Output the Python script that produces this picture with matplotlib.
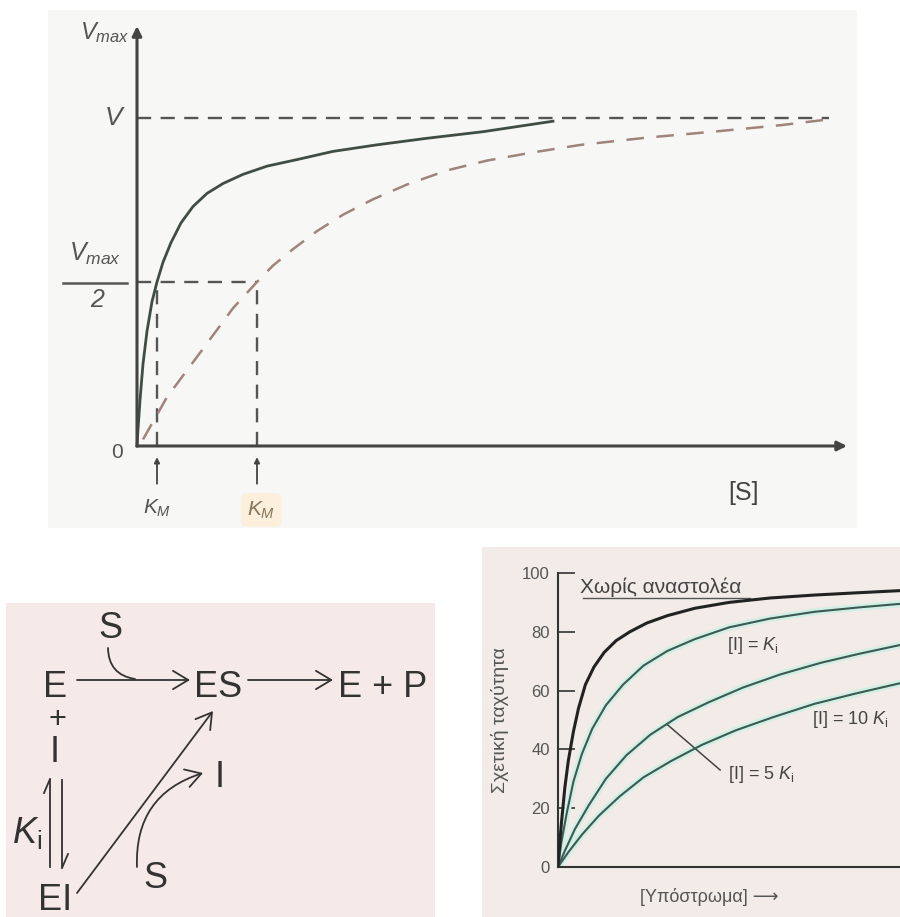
import matplotlib.pyplot as plt
from matplotlib.patches import Rectangle

plt.rcParams["font.family"] = ["Liberation Sans", "DejaVu Sans"]
plt.rcParams["mathtext.fontset"] = "custom"
plt.rcParams["mathtext.rm"] = "Liberation Sans"
plt.rcParams["mathtext.it"] = "Liberation Sans:italic"

# --- top panel: v against [S], without and with a competitive inhibitor
s_free = [0, 0.05, 0.15, 0.3, 0.5, 0.75, 1.0, 1.3, 1.7, 2.2, 2.8, 3.5, 4.3, 5.3, 6.5, 8.0,
          9.8, 12, 14.5, 17.3, 20.8]
v_free = [0, 0.05, 0.14, 0.25, 0.35, 0.44, 0.5, 0.56, 0.62, 0.68, 0.73, 0.77, 0.8, 0.828,
          0.853, 0.873, 0.898, 0.918, 0.938, 0.958, 0.99]
s_inhib = [0.3, 1.5, 3.15, 4.8, 6.0, 6.8, 7.8, 9.0, 10.3, 11.8, 13.5, 15.5, 17.5, 19.8, 22.2,
           25.5, 28.8, 32.2, 34.5]
v_inhib = [0.02, 0.149, 0.284, 0.42, 0.5, 0.55, 0.6, 0.655, 0.705, 0.752, 0.797, 0.84, 0.87,
           0.895, 0.918, 0.94, 0.958, 0.978, 0.995]
v_max = 1.0
km_free = 1.0
km_inhib = 6.0
s_end = 34.6

# --- bottom right panel: relative rate (%) against [substrate]
x_none = [0, 0.05, 0.1, 0.2, 0.3, 0.45, 0.6, 0.8, 1.05, 1.35, 1.7, 2.1, 2.6, 3.2, 4, 5, 6.2,
          7.5, 8.8, 10]
y_none = [0, 8, 15, 27, 36, 46, 54, 62, 68, 73, 77, 80, 83, 85.5, 88, 90, 91.5, 92.5, 93.3, 94]
x_ki1 = [0, 0.1, 0.25, 0.45, 0.7, 1.0, 1.4, 1.9, 2.5, 3.2, 4.0, 5.0, 6.2, 7.5, 8.8, 10]
y_ki1 = [0, 8.5, 18, 29, 38.5, 47, 55, 62, 68.5, 73.5, 77.5, 81.5, 84.5, 86.8, 88.3, 89.5]
x_ki5 = [0, 0.2, 0.5, 0.9, 1.4, 2.0, 2.7, 3.5, 4.4, 5.4, 6.5, 7.7, 8.8, 10]
y_ki5 = [0, 5.5, 13, 21, 30, 38, 45, 51, 56, 61, 65.5, 69.5, 72.5, 75.5]
x_ki10 = [0, 0.3, 0.7, 1.2, 1.8, 2.5, 3.3, 4.2, 5.2, 6.3, 7.5, 8.7, 10]
y_ki10 = [0, 5, 11, 17.5, 24, 30.5, 36, 41.5, 46.5, 51, 55.5, 59, 62.5]
y_ticks = [0, 20, 40, 60, 80, 100]

W, H = 900, 917
fig = plt.figure(figsize=(9, 9.17), dpi=100)


def box(x0, y0, x1, y1):
    # pixel box (top-left origin) -> figure fraction rect
    return [x0 / W, 1 - y1 / H, (x1 - x0) / W, (y1 - y0) / H]


def bare(ax):
    ax.set_xticks([])
    ax.set_yticks([])
    for sp in ax.spines.values():
        sp.set_visible(False)


# ================= top panel =================
ax = fig.add_axes(box(48, 10, 857, 528))
ax.set_xlim(-4.45, 36)
ax.set_ylim(-0.25, 1.329)
ax.set_facecolor("#f7f7f5")
bare(ax)

axis_c = "#444444"
txt_c = "#555555"
dash_c = "#555555"

ax.annotate("", xy=(35.5, 0), xytext=(0, 0),
            arrowprops=dict(arrowstyle="-|>", color=axis_c, lw=2.2, mutation_scale=14,
                            shrinkA=0, shrinkB=0))
ax.annotate("", xy=(0, 1.28), xytext=(0, 0),
            arrowprops=dict(arrowstyle="-|>", color=axis_c, lw=2.2, mutation_scale=14,
                            shrinkA=0, shrinkB=0))

dash = (0, (6, 4))
ax.plot([0, s_end], [v_max, v_max], ls=dash, color=dash_c, lw=1.7)
ax.plot([0, km_inhib], [v_max / 2, v_max / 2], ls=dash, color=dash_c, lw=1.7)
ax.plot([km_free, km_free], [0, v_max / 2], ls=dash, color=dash_c, lw=1.7)
ax.plot([km_inhib, km_inhib], [0, v_max / 2], ls=dash, color=dash_c, lw=1.7)

ax.plot(s_free, v_free, color="#3f4d42", lw=2)
ax.plot(s_inhib, v_inhib, color="#a0847c", lw=1.8, ls=(0, (7, 5)))

for k in (km_free, km_inhib):
    ax.annotate("", xy=(k, -0.034), xytext=(k, -0.115),
                arrowprops=dict(arrowstyle="-|>", color=axis_c, lw=1.3, mutation_scale=8,
                                shrinkA=0, shrinkB=0))

ax.text(-1.6, 1.26, r"$V_{max}$", fontsize=17, color=txt_c, ha="center", va="center")
ax.text(-1.1, 1.0, r"$V$", fontsize=19, color=txt_c, ha="center", va="center")
ax.text(-2.1, 0.585, r"$V_{max}$", fontsize=18, color=txt_c, ha="center", va="center")
ax.plot([-3.7, -0.5], [0.497, 0.497], color=txt_c, lw=1.8, clip_on=False)
ax.text(-2.0, 0.445, "2", fontsize=18, style="italic", color=txt_c, ha="center", va="center")
ax.text(-1.0, -0.02, "0", fontsize=15, color=txt_c, ha="center", va="center")
ax.text(km_free, -0.19, r"$K_M$", fontsize=15, color=txt_c, ha="center", va="center")
ax.text(km_inhib + 0.2, -0.195, r"$K_M$", fontsize=15, color="#8a7658", ha="center", va="center",
        bbox=dict(boxstyle="round,pad=0.3", facecolor="#fcf0dd", edgecolor="none"))
ax.text(30.3, -0.143, "[S]", fontsize=18, color="#444444", ha="center", va="center")

# ================= bottom left: reaction scheme =================
ax2 = fig.add_axes(box(6, 603, 435, 917))
ax2.set_xlim(6, 435)
ax2.set_ylim(917, 603)
ax2.set_facecolor("#f5eae7")
bare(ax2)

sc = "#333333"
fs = 26
ax2.text(110, 638, "S", fontsize=fs, color=sc, ha="center", va="baseline")
ax2.text(55, 697, "E", fontsize=fs, color=sc, ha="center", va="baseline")
ax2.text(218, 697, "ES", fontsize=fs, color=sc, ha="center", va="baseline")
ax2.text(383, 697, "E + P", fontsize=fs, color=sc, ha="center", va="baseline")
ax2.text(57, 720, "+", fontsize=22, color=sc, ha="center", va="center")
ax2.text(55, 762, "I", fontsize=fs, color=sc, ha="center", va="baseline")
ax2.text(55, 910, "EI", fontsize=fs, color=sc, ha="center", va="baseline")
ax2.text(220, 787, "I", fontsize=fs, color=sc, ha="center", va="baseline")
ax2.text(155, 888, "S", fontsize=fs, color=sc, ha="center", va="baseline")
ax2.text(27, 843, r"$K_{\mathrm{i}}$", fontsize=fs, color=sc, ha="center", va="baseline")

arr = dict(arrowstyle="->,head_length=0.5,head_width=0.3", color=sc, lw=1.3,
           mutation_scale=22, shrinkA=0, shrinkB=0)
ax2.annotate("", xy=(190, 680), xytext=(77, 680), arrowprops=arr)
ax2.annotate("", xy=(333, 680), xytext=(248, 680), arrowprops=arr)
ax2.annotate("", xy=(213, 711), xytext=(77, 893), arrowprops=arr)
ax2.annotate("", xy=(203, 773), xytext=(137, 867),
             arrowprops=dict(arr, connectionstyle="arc3,rad=-0.38"))
ax2.annotate("", xy=(135, 679), xytext=(108, 648),
             arrowprops=dict(arrowstyle="-", color=sc, lw=1.3, shrinkA=0, shrinkB=0,
                             connectionstyle="arc3,rad=0.42"))
# equilibrium harpoons
ax2.plot([50, 50], [780, 867], color=sc, lw=1.3)
ax2.plot([50, 44], [779, 793], color=sc, lw=1.3)
ax2.plot([62, 62], [780, 867], color=sc, lw=1.3)
ax2.plot([62, 68], [868, 854], color=sc, lw=1.3)

# ================= bottom right: competitive inhibition =================
fig.add_artist(Rectangle((482 / W, 0), (W - 482) / W, (H - 547) / H, transform=fig.transFigure,
                         facecolor="#f2ebe8", edgecolor="none", zorder=0))
ax3 = fig.add_axes(box(558, 573, 900, 867))
ax3.set_xlim(0, 10)
ax3.set_ylim(0, 100)
ax3.patch.set_alpha(0)
for side in ("top", "right"):
    ax3.spines[side].set_visible(False)
for side in ("left", "bottom"):
    ax3.spines[side].set_color("#333333")
    ax3.spines[side].set_linewidth(1.5)
ax3.set_xticks([])
ax3.set_yticks(y_ticks)
ax3.tick_params(axis="y", direction="in", length=12, width=1.2, labelsize=12,
                labelcolor="#555555", color="#333333", pad=6)

teal = "#3b5a52"
halo = "#d2efe5"
for xs, ys in ((x_ki1, y_ki1), (x_ki5, y_ki5), (x_ki10, y_ki10)):
    ax3.plot(xs, ys, color=halo, lw=5, solid_capstyle="round", zorder=2)
    ax3.plot(xs, ys, color=teal, lw=1.5, zorder=3)
ax3.plot(x_none, y_none, color="#222222", lw=2.2, zorder=4)

lab_c = "#444444"
ax3.text(0.64, 95, "Χωρίς αναστολέα", fontsize=15, color=lab_c, ha="left", va="center")
ax3.plot([0.73, 5.6], [91.6, 91.6], color="#555555", lw=1)
ax3.text(4.94, 75.5, r"[I] = $K_{\mathrm{i}}$", fontsize=13, color=lab_c, ha="left", va="center")
ax3.text(7.43, 50, r"[I] = 10 $K_{\mathrm{i}}$", fontsize=13, color=lab_c, ha="left", va="center",
         clip_on=False)
ax3.text(4.97, 31.3, r"[I] = 5 $K_{\mathrm{i}}$", fontsize=13, color=lab_c, ha="left", va="center")
ax3.plot([4.74, 3.19], [33, 48.5], color="#444444", lw=1.1)
ax3.text(-1.7, 50, "Σχετική ταχύτητα", fontsize=14, color="#555555", rotation=90,
         ha="center", va="center")
ax3.text(2.4, -10.2, "[Υπόστρωμα] ⟶", fontsize=13, color="#555555", ha="left", va="center",
         clip_on=False)

fig.savefig("out.png", dpi=100, facecolor="white")
